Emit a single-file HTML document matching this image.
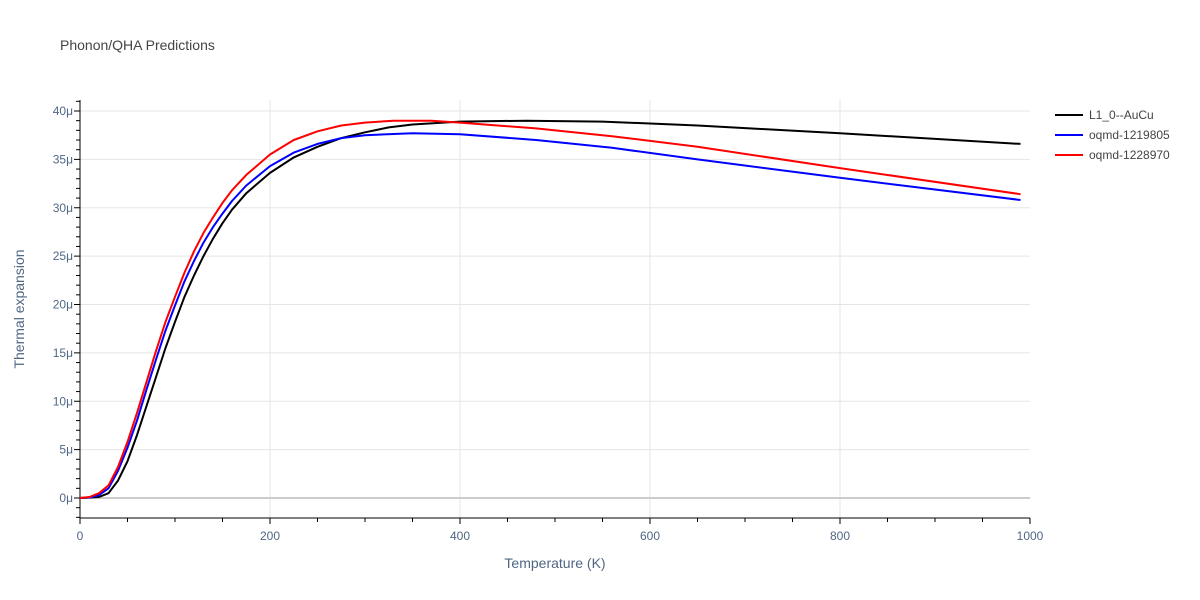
<!DOCTYPE html>
<html><head><meta charset="utf-8"><style>
body{margin:0;background:#fff}
svg{display:block;font-family:"Liberation Sans",sans-serif}
</style></head><body>
<svg id="c" width="1200" height="600">
<text x="60" y="50" font-size="14" fill="#444">Phonon/QHA Predictions</text>
<g id="grid"></g><g id="axes"></g><g id="series"></g>
<text x="555" y="568" font-size="14" fill="#506784" text-anchor="middle">Temperature (K)</text>
<text transform="translate(24,309) rotate(-90)" font-size="14" fill="#506784" text-anchor="middle">Thermal expansion</text>
<g id="legend"></g>
</svg>
<script>
const T_black=[0,20,30,40,50,60,70,80,90,100,110,120,130,140,150,160,175,200,225,250,275,300,325,350,400,470,550,650,800,990];
const V_black=[0,0.1,0.5,1.8,3.8,6.5,9.5,12.5,15.5,18.2,20.8,23.0,25.0,26.8,28.4,29.8,31.5,33.6,35.2,36.3,37.2,37.8,38.3,38.6,38.9,39.0,38.9,38.5,37.7,36.6];
const T_blue=[0,10,20,30,40,50,60,70,80,90,100,110,120,130,140,150,160,175,200,225,250,275,300,350,400,480,560,650,800,990];
const V_blue=[0,0.05,0.3,1.0,2.8,5.2,8.0,11.2,14.3,17.3,19.9,22.4,24.5,26.4,28.0,29.4,30.7,32.3,34.3,35.7,36.6,37.2,37.5,37.7,37.6,37.0,36.2,35.0,33.1,30.8];
const T_red=[0,10,20,30,40,50,60,70,80,90,100,110,120,130,140,150,160,175,200,225,250,275,300,330,370,400,480,560,650,800,990];
const V_red=[0,0.1,0.5,1.3,3.2,5.8,8.8,12.0,15.2,18.2,20.8,23.3,25.5,27.4,29.0,30.5,31.8,33.4,35.5,37.0,37.9,38.5,38.8,39.0,39.0,38.8,38.2,37.4,36.3,34.1,31.4];
const xTicks=[0,200,400,600,800,1000];
const yTicks=[0,5,10,15,20,25,30,35,40];
const names=["L1_0--AuCu","oqmd-1219805","oqmd-1228970"];
const colors=["#000000","#0000ff","#ff0000"];
const NS="http://www.w3.org/2000/svg";
const X=t=>80+t*0.95, Y=v=>498-v*9.675;
function mk(tag,attrs,parent){const e=document.createElementNS(NS,tag);for(const k in attrs)e.setAttribute(k,attrs[k]);parent.appendChild(e);return e;}
const grid=document.getElementById('grid'),axes=document.getElementById('axes'),ser=document.getElementById('series'),leg=document.getElementById('legend');
xTicks.forEach(t=>{
 if(t>0&&t<1000){const g=mk('line',{x1:X(t),x2:X(t),y1:100,y2:518,stroke:'#e5e5e5','stroke-width':1},grid);
 
 }
 const l=mk('text',{x:X(t),y:540,'font-size':12,fill:'#506784','text-anchor':'middle'},axes);l.textContent=t;
 
 
});
yTicks.forEach(v=>{
 const g=mk('line',{x1:80,x2:1030,y1:Y(v),y2:Y(v),stroke:v===0?'#cccccc':'#e5e5e5','stroke-width':v===0?2:1},grid);
 
 
 const l=mk('text',{x:73,y:Y(v)+4,'font-size':12,fill:'#506784','text-anchor':'end'},axes);l.textContent=v+'μ';
 
 
});
for(let v=-2;v<=41;v++){mk('line',{x1:v%5===0?74:76,x2:80,y1:Y(v),y2:Y(v),stroke:'#000','stroke-width':1},axes);}
for(let t=0;t<=1000;t+=50){mk('line',{x1:X(t),x2:X(t),y1:518,y2:t%200===0?524:522,stroke:'#000','stroke-width':1},axes);}
const ya=mk('line',{x1:80,x2:80,y1:100,y2:518,stroke:'#000','stroke-width':1},axes);


const xa=mk('line',{x1:80,x2:1030,y1:518,y2:518,stroke:'#000','stroke-width':1},axes);


[[T_black,V_black],[T_blue,V_blue],[T_red,V_red]].forEach((s,i)=>{
 const p=mk('path',{d:s[0].map((t,j)=>(j?'L':'M')+X(t).toFixed(1)+','+Y(s[1][j]).toFixed(1)).join(''),fill:'none',stroke:colors[i],'stroke-width':2,'stroke-linejoin':'round'},ser);
 
 
 const ll=mk('line',{x1:1055,x2:1083,y1:115+i*20,y2:115+i*20,stroke:colors[i],'stroke-width':2},leg);
 
 
 const lt=mk('text',{x:1089,y:119+i*20,'font-size':12,fill:'#444'},leg);lt.textContent=names[i];
 
 
});
</script>
</body></html>
